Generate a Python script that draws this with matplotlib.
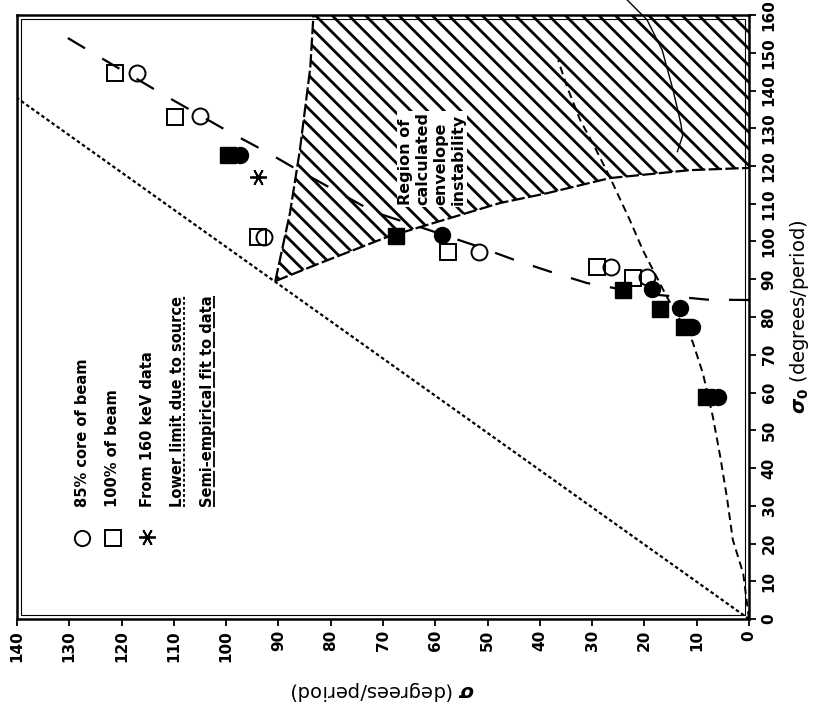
import matplotlib
matplotlib.use("Agg")
import matplotlib.pyplot as plt
from matplotlib.patches import Rectangle

# ---- data (sigma = depressed phase advance, sigma0 = zero-current phase advance)
# 85% core of beam (open circles)
core_sigma = [117.0, 105.0, 92.8, 51.6, 26.4, 19.5]
core_sigma0 = [144.6, 133.2, 101.2, 97.2, 93.2, 90.6]
# 100% of beam (open squares)
full_sigma = [121.2, 109.8, 93.9, 57.6, 29.1, 22.2]
full_sigma0 = [144.6, 133.0, 101.2, 97.2, 93.2, 90.3]
# filled squares
fsq_sigma = [99.6, 67.5, 24.1, 17.0, 12.4, 8.2]
fsq_sigma0 = [122.9, 101.5, 87.2, 82.1, 77.4, 58.8]
# filled circles
fci_sigma = [97.3, 58.7, 18.5, 13.2, 10.9, 5.9]
fci_sigma0 = [122.9, 101.7, 87.4, 82.4, 77.4, 58.8]
# from 160 keV data
kev_sigma = [93.9]
kev_sigma0 = [117.1]

# lower limit due to source
limit_sigma = [0, 140]
limit_sigma0 = [0, 138]
# semi-empirical fit to data
fit_sigma = [0, 8, 20, 31, 38, 45, 52.5, 62, 71.7, 78.5, 87, 92, 99, 111.5, 124, 131]
fit_sigma0 = [84.5, 84.6, 86.2, 89, 92, 95.2, 99, 103.4, 107.8, 113, 119.5, 123.5, 128.7, 138.5, 148.7, 154.5]
# calculated curve (medium dashes)
calc_sigma = [0, 1.1, 3.1, 4.2, 5.5, 6.9, 8.8, 10.8, 15.7, 20.3, 22.8, 26.6, 29.5, 32.3, 34.8, 36.5]
calc_sigma0 = [0, 12, 21, 32, 43, 53.5, 65, 73.5, 85.3, 97.7, 105.7, 117, 125, 132.2, 141, 148]
# thin solid curve inside the unstable region
solid_sigma = [23.3, 19.5, 16.6, 14.5, 13.0, 12.7, 13.7]
solid_sigma0 = [164, 158.7, 150.7, 140, 131, 128, 123.8]
# boundaries of region of envelope instability
inst_left_sigma = [90.6, 87.8, 85.9, 83.9, 83.3]
inst_left_sigma0 = [89.5, 107.5, 124.2, 146.2, 160]
inst_low_sigma = [90.6, 82.0, 69.2, 47.6, 38.6, 26.6, 11.3, 0]
inst_low_sigma0 = [89.5, 94.3, 101.2, 110.2, 112.8, 116.8, 118.9, 119.5]

plt.rcParams['font.family'] = 'DejaVu Sans'
plt.rcParams['font.weight'] = 'bold'
plt.rcParams['mathtext.fontset'] = 'custom'
plt.rcParams['mathtext.rm'] = 'DejaVu Sans:bold'
plt.rcParams['mathtext.it'] = 'DejaVu Sans:italic:bold'
plt.rcParams['mathtext.bf'] = 'DejaVu Sans:bold'
plt.rcParams['hatch.linewidth'] = 2.0

fig = plt.figure(figsize=(8.22, 7.13), dpi=100)
ax = fig.add_axes([17 / 822, 1 - 619 / 713, 732 / 822, 604 / 713])

# hatched region
poly_x = inst_left_sigma + [0] + inst_low_sigma[::-1]
poly_y = inst_left_sigma0 + [160] + inst_low_sigma0[::-1]
ax.fill(poly_x, poly_y, facecolor='none', edgecolor='black', hatch='\\\\', linewidth=0)
ax.plot(inst_left_sigma, inst_left_sigma0, color='black', lw=1.6, dashes=(6, 1.5))
ax.plot(inst_low_sigma, inst_low_sigma0, color='black', lw=1.6, dashes=(6, 1.5))

# curves
ax.plot(limit_sigma, limit_sigma0, color='black', lw=1.6, dashes=(1.6, 1.2))
ax.plot(fit_sigma, fit_sigma0, color='black', lw=1.6, dashes=(9, 9))
ax.plot(calc_sigma, calc_sigma0, color='black', lw=1.4, dashes=(4, 2.5))
ax.plot(solid_sigma, solid_sigma0, color='black', lw=1.0, clip_on=False)

# data points
ax.plot(fci_sigma, fci_sigma0, 'o', color='black', ms=11.5, ls='none')
ax.plot(fsq_sigma, fsq_sigma0, 's', color='black', ms=12, ls='none')
ax.plot(core_sigma, core_sigma0, 'o', mfc='none', mec='black', mew=1.4, ms=11.5, ls='none')
ax.plot(full_sigma, full_sigma0, 's', mfc='none', mec='black', mew=1.4, ms=12, ls='none')
ax.plot(kev_sigma, kev_sigma0, marker=(6, 2, 90), color='black', mew=1.3, ms=12, ls='none')

ax.set_xlim(140, 0)
ax.set_ylim(0, 160)
ax.set_xticks(range(0, 141, 10))
ax.set_yticks(range(0, 161, 10))
ax.yaxis.tick_right()
ax.yaxis.set_label_position('right')
ax.tick_params(axis='both', direction='out', length=5, width=1.3, labelsize=11)
ax.tick_params(axis='x', labelrotation=90, pad=3)
ax.tick_params(axis='y', labelrotation=90, pad=4)
for lab in ax.get_yticklabels():
    lab.set_verticalalignment('center')
for s in ax.spines.values():
    s.set_linewidth(1.8)
ax.add_patch(Rectangle((0.0048, 0.0058), 0.9904, 0.9884, transform=ax.transAxes,
                       fill=False, lw=0.8, color='black'))

ax.set_ylabel(r'$\sigma_0$ (degrees/period)', fontsize=14, labelpad=8)
ax.set_xlabel(r'$\sigma$ (degrees/period)', fontsize=14, rotation=180, labelpad=12)

# legend (rotated like the rest of the page)
ax.plot(0.0888, 0.134, 'o', mfc='none', mec='black', mew=1.4, ms=11, transform=ax.transAxes)
ax.plot(0.131, 0.134, 's', mfc='none', mec='black', mew=1.4, ms=11, transform=ax.transAxes)
ax.plot(0.178, 0.136, marker=(6, 2, 90), color='black', mew=1.3, ms=12, transform=ax.transAxes)
legend_x = [0.0888, 0.131, 0.178, 0.2186, 0.2596]
legend_text = ['85% core of beam', '100% of beam', 'From 160 keV data',
               'Lower limit due to source', 'Semi-empirical fit to data']
texts = []
for x, t in zip(legend_x, legend_text):
    texts.append(ax.text(x, 0.185, t, rotation=90, ha='center', va='bottom',
                         fontsize=10.5, transform=ax.transAxes))

ax.text(0.567, 0.685, 'Region of\ncalculated\nenvelope\ninstability', rotation=90,
        ha='center', va='bottom', multialignment='left', fontsize=11.5,
        transform=ax.transAxes,
        bbox=dict(facecolor='white', edgecolor='none', pad=1))

# underline the line-style entries with their own dash patterns
fig.canvas.draw()
r = fig.canvas.get_renderer()
for t, dash in [(texts[3], (1.6, 1.2)), (texts[4], (9, 2))]:
    bb = t.get_window_extent(r).transformed(ax.transAxes.inverted())
    ax.plot([bb.x1 - 0.001] * 2, [bb.y0, bb.y1], color='black', lw=1.3,
            dashes=dash, transform=ax.transAxes)

fig.savefig('out.png', dpi=100)
